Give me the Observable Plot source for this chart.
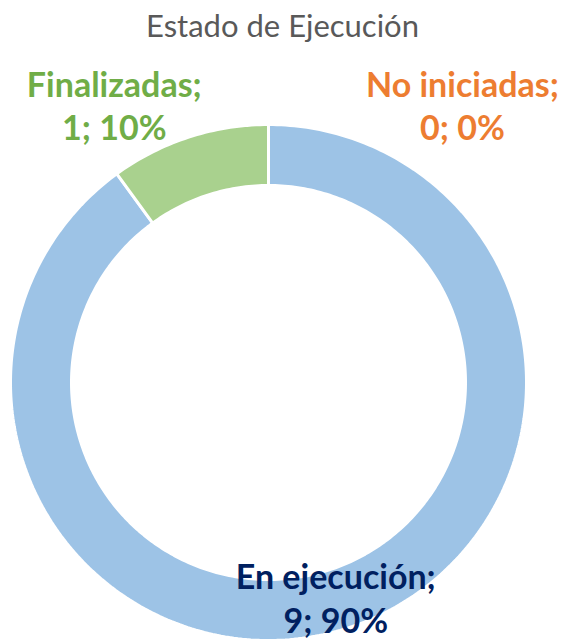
<!DOCTYPE html>
<html><head><meta charset="utf-8">
<script src="https://cdn.jsdelivr.net/npm/d3@7"></script>
<script src="https://cdn.jsdelivr.net/npm/@observablehq/plot@0.6"></script>
<style>
body{margin:0;background:#fff;}
#title{height:50px;line-height:50px;font-family:Lato,"Open Sans",sans-serif;font-size:31px;color:#595959;text-align:center;width:565px;}
</style>
</head><body>
<div id="title"></div>
<div id="chart"></div>
<script>
// ---- data ----
const title = "Estado de Ejecución";
const categories = ["En ejecución", "Finalizadas", "No iniciadas"];
const values = [9, 1, 0];
const sliceColors = ["#9DC3E6", "#A9D18E", "#F4B183"];
const labelColors = ["#002060", "#70AD47", "#ED7D31"];

// ---- layout ----
const W = 569, H = 641, titleH = 50;
const cx = 268, cy = 382, rOuter = 258, rInner = 197;
const labelAngleDeg = [162.6, -29, 34.9];
const labelRadius = [225, 318, 339];

document.getElementById("title").textContent = title;

const total = d3.sum(values);
const rows = categories.map((c, i) => ({category: c, value: values[i], color: sliceColors[i], labelColor: labelColors[i], idx: i}));
const arcs = d3.pie().sort(null).value(d => d.value)(rows);

// polygon points for each non-empty slice
const poly = [];
for (const a of arcs) {
  if (a.endAngle - a.startAngle <= 0) continue;
  const n = Math.max(4, Math.ceil((a.endAngle - a.startAngle) * 60));
  const pts = [];
  for (let k = 0; k <= n; k++) {
    const t = a.startAngle + (a.endAngle - a.startAngle) * k / n;
    pts.push([cx + rOuter * Math.sin(t), cy - rOuter * Math.cos(t)]);
  }
  for (let k = n; k >= 0; k--) {
    const t = a.startAngle + (a.endAngle - a.startAngle) * k / n;
    pts.push([cx + rInner * Math.sin(t), cy - rInner * Math.cos(t)]);
  }
  pts.push(pts[0]);
  for (const [x, y] of pts) poly.push({category: a.data.category, color: a.data.color, x, y});
}

const labels = rows.map(r => {
  const ang = labelAngleDeg[r.idx] * Math.PI / 180;
  const pct = total ? Math.round(r.value / total * 100) : 0;
  return {
    x: cx + labelRadius[r.idx] * Math.sin(ang),
    y: cy - labelRadius[r.idx] * Math.cos(ang),
    text: `${r.category};\n${r.value}; ${pct}%`,
    color: r.labelColor
  };
});

const chart = Plot.plot({
  width: W, height: H - titleH,
  margin: 0,
  x: {domain: [0, W], range: [0, W], axis: null},
  y: {domain: [titleH, H], range: [0, H - titleH], axis: null},
  color: {type: "identity"},
  style: {background: "white", overflow: "visible"},
  marks: [
    Plot.line(poly, {x: "x", y: "y", z: "category", fill: "color", stroke: "white", strokeWidth: 3, strokeLinejoin: "miter", curve: "linear"}),
    Plot.text(labels, {x: "x", y: "y", text: "text", fill: "color", fontSize: 34, fontWeight: "bold", fontFamily: "Lato, 'Open Sans', sans-serif", lineHeight: 1.28, lineAnchor: "middle", textAnchor: "middle"})
  ]
});
document.getElementById("chart").appendChild(chart);
</script>
</body></html>
